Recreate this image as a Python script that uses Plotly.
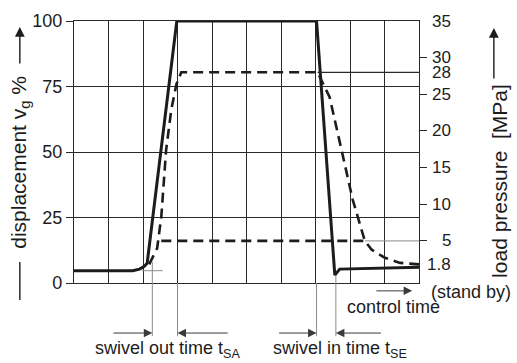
import plotly.graph_objects as go

# ---- data -------------------------------------------------------------
# control time in arbitrary units (one grid division per unit)
time_disp = [0, 1.7, 1.9, 2.03, 2.12, 2.98, 7.03, 7.56, 7.70, 10]
displacement = [4.7, 4.7, 5.3, 6.3, 7.5, 100, 100, 3.0, 5.3, 6.0]   # % of Vg max

time_press = [2.18, 2.41, 2.53, 2.67, 2.82, 2.97, 3.11, 7.06, 7.41, 7.65,
              7.88, 8.08, 8.43, 8.63, 9.01, 9.45, 10]
pressure = [1.8, 4.0, 8.3, 17.4, 22.9, 26.4, 28, 28, 24.6, 19.7,
            14.7, 10.6, 5.0, 3.8, 2.7, 2.0, 1.8]                   # MPa

plateau_time = [2.53, 8.43]       # 5 MPa level held while swivelling
plateau_pressure = 5
max_pressure = 28

disp_ticks = [0, 25, 50, 75, 100]
press_ticks = [5, 10, 15, 20, 25, 30]
press_labels = [35, 30, 28, 25, 20, 15, 10, 5, 1.8]

t_sa = (2.27, 3.0)     # swivel out: start / end
t_se = (7.03, 7.59)    # swivel in: start / end
time_range = [0, 10]
press_range = [-0.74, 35]

# ---- styling ----------------------------------------------------------
FONT = "Liberation Sans, Arial, Helvetica, sans-serif"
INK = "#1c1c1c"
GRID = "#2a2a2a"
THIN = "#8a8a8a"

fig = go.Figure()

fig.add_trace(go.Scatter(
    x=time_disp, y=displacement, mode="lines",
    line=dict(color=INK, width=3), yaxis="y", showlegend=False))

fig.add_trace(go.Scatter(
    x=time_press, y=pressure, mode="lines",
    line=dict(color=INK, width=2.6, dash="10px,6px"), yaxis="y2",
    showlegend=False))

fig.add_trace(go.Scatter(
    x=plateau_time, y=[plateau_pressure] * 2, mode="lines",
    line=dict(color=INK, width=2.6, dash="10px,6px"), yaxis="y2",
    showlegend=False))

shapes = []
# reference lines from the curves to the pressure scale
shapes.append(dict(type="line", xref="x", yref="y2",
                   x0=time_press[7], x1=time_range[1],
                   y0=max_pressure, y1=max_pressure,
                   line=dict(color=GRID, width=1.2)))
shapes.append(dict(type="line", xref="x", yref="y2",
                   x0=plateau_time[1], x1=time_range[1],
                   y0=plateau_pressure, y1=plateau_pressure,
                   line=dict(color=THIN, width=1)))

# tangent construction at the start of swivel out
shapes.append(dict(type="line", xref="x", yref="y",
                   x0=t_sa[0] - 0.3, x1=t_sa[0] + 0.3,
                   y0=displacement[0], y1=displacement[0],
                   line=dict(color=THIN, width=1)))

# extension lines marking the swivel times below the grid
ARROW_Y = -0.191
for t, top in [(t_sa[0], 0.08), (t_sa[1], 0.0), (t_se[0], 0.0), (t_se[1], 0.03)]:
    shapes.append(dict(type="line", xref="x", yref="paper",
                       x0=t, x1=t, y0=top, y1=ARROW_Y - 0.012,
                       line=dict(color=THIN, width=1)))

# lower stroke of the displacement axis arrow
shapes.append(dict(type="line", xref="paper", yref="paper",
                   x0=-0.157, x1=-0.157, y0=-0.065, y1=0.08,
                   line=dict(color=INK, width=1.4)))

annotations = []


def arrow(head_t, tail_t, y):
    annotations.append(dict(
        x=head_t, y=y, xref="x", yref="paper",
        ax=tail_t, ay=0, axref="x", ayref="pixel",
        text="", showarrow=True, arrowhead=2, arrowsize=1.7,
        arrowwidth=1, arrowcolor="#3a3a3a"))


arrow(t_sa[0], t_sa[0] - 1.17, ARROW_Y)
arrow(t_sa[1], t_sa[1] + 1.5, ARROW_Y)
arrow(t_se[0], t_se[0] - 1.13, ARROW_Y)
arrow(t_se[1], t_se[1] + 1.35, ARROW_Y)
arrow(9.8, 8.72, -0.03)

# right-hand pressure labels, right aligned
for p in press_labels:
    annotations.append(dict(
        x=1, y=p, xref="paper", yref="y2", xanchor="right", yanchor="middle",
        xshift=34, text=f"{p:g}", showarrow=False,
        font=dict(family=FONT, size=17, color=INK)))

# axis titles with their arrows
annotations.append(dict(x=-0.157, y=0.977, xref="paper", yref="paper",
                        ax=0, ay=38, text="", showarrow=True, arrowhead=2,
                        arrowsize=1.4, arrowwidth=1.4, arrowcolor=INK))
annotations.append(dict(x=-0.157, y=0.462, xref="paper", yref="paper",
                        xanchor="center", yanchor="middle",
                        text="displacement v<sub>g</sub> %", textangle=-90,
                        showarrow=False,
                        font=dict(family=FONT, size=21, color=INK)))
annotations.append(dict(x=1.217, y=0.973, xref="paper", yref="paper",
                        ax=0, ay=52, text="", showarrow=True, arrowhead=2,
                        arrowsize=1.4, arrowwidth=1.4, arrowcolor=INK))
annotations.append(dict(x=1.235, y=0.39, xref="paper", yref="paper",
                        xanchor="center", yanchor="middle",
                        text="load pressure  [MPa]", textangle=-90,
                        showarrow=False,
                        font=dict(family=FONT, size=21, color=INK)))

# captions
for text, x, y in [("swivel out time t<sub>SA</sub>", 0.27, -0.252),
                   ("swivel in time t<sub>SE</sub>", 0.771, -0.252),
                   ("control time", 0.925, -0.092),
                   ("(stand by)", 1.152, -0.036)]:
    annotations.append(dict(x=x, y=y, xref="paper", yref="paper",
                            text=text, showarrow=False,
                            xanchor="center", yanchor="middle",
                            font=dict(family=FONT, size=18, color=INK)))

fig.update_layout(
    width=517, height=363,
    margin=dict(l=74, r=98, t=21, b=80),
    paper_bgcolor="white", plot_bgcolor="white",
    font=dict(family=FONT, size=18, color=INK),
    xaxis=dict(range=time_range, dtick=1, showgrid=True, gridcolor=GRID,
               gridwidth=1.2, showticklabels=False, ticks="", zeroline=False,
               showline=True, mirror=True, linecolor=GRID, linewidth=1.2),
    yaxis=dict(range=[0, 100], tickvals=disp_ticks, showgrid=True,
               gridcolor=GRID, gridwidth=1.2, ticks="outside", ticklen=7,
               tickwidth=1.2, tickcolor=GRID, zeroline=False,
               showline=True, mirror=True, linecolor=GRID, linewidth=1.2,
               tickfont=dict(family=FONT, size=18, color=INK)),
    yaxis2=dict(range=press_range, overlaying="y", side="right",
                tickvals=press_ticks, showticklabels=False, showgrid=False,
                ticks="outside", ticklen=7, tickwidth=1.2, tickcolor=GRID,
                zeroline=False),
    shapes=shapes,
    annotations=annotations,
    showlegend=False,
)

fig.write_html("out.html")
